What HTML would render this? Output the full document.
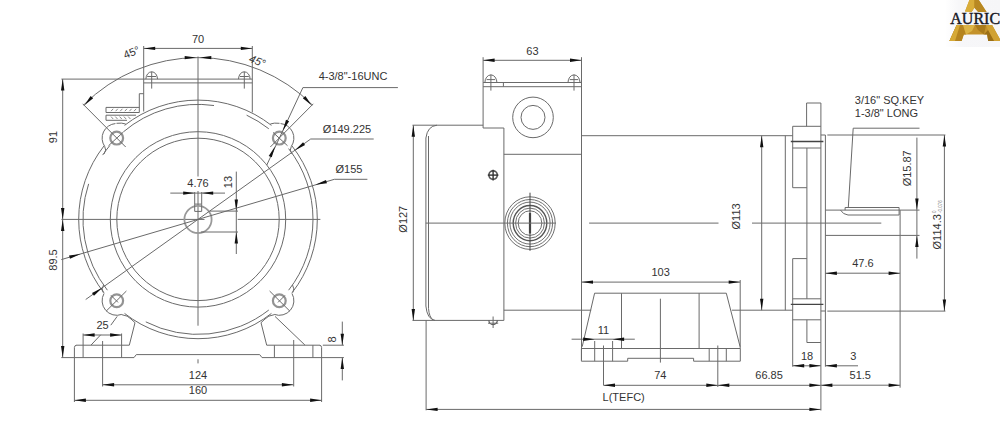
<!DOCTYPE html>
<html><head><meta charset="utf-8"><title>Motor drawing</title>
<style>
html,body{margin:0;padding:0;background:#fff;}
body{width:1000px;height:433px;overflow:hidden;}
svg{display:block;font-family:"Liberation Sans",sans-serif;}
</style></head><body>
<svg width="1000" height="433" viewBox="0 0 1000 433">
<rect width="1000" height="433" fill="#fff"/>
<line x1="61.4" y1="219.4" x2="204.5" y2="219.4" stroke="#6a6a6a" stroke-width="1"/>
<line x1="237.7" y1="219.4" x2="320.4" y2="219.4" stroke="#6a6a6a" stroke-width="1"/>
<line x1="198.0" y1="56.5" x2="198.0" y2="176.5" stroke="#6a6a6a" stroke-width="1"/>
<line x1="198.0" y1="191.0" x2="198.0" y2="325.7" stroke="#6a6a6a" stroke-width="1"/>
<line x1="198.0" y1="359.3" x2="198.0" y2="363.4" stroke="#6a6a6a" stroke-width="1"/>
<path d="M271.45 125.39 A119.30 119.30 0 0 0 124.55 125.39" stroke="#6a6a6a" stroke-width="1" fill="none"/>
<path d="M103.99 145.95 A119.30 119.30 0 0 0 103.99 292.85" stroke="#6a6a6a" stroke-width="1" fill="none"/>
<path d="M124.55 313.41 A119.30 119.30 0 0 0 271.45 313.41" stroke="#6a6a6a" stroke-width="1" fill="none"/>
<path d="M292.01 292.85 A119.30 119.30 0 0 0 292.01 145.95" stroke="#6a6a6a" stroke-width="1" fill="none"/>
<path d="M214.00 105.52 A115.00 115.00 0 0 0 123.31 131.95" stroke="#6a6a6a" stroke-width="1" fill="none"/>
<path d="M268.80 128.78 A115.00 115.00 0 0 0 246.60 115.17" stroke="#6a6a6a" stroke-width="1" fill="none"/>
<path d="M109.90 145.48 A115.00 115.00 0 0 0 102.66 155.09" stroke="#6a6a6a" stroke-width="1" fill="none"/>
<path d="M88.63 183.86 A115.00 115.00 0 0 0 107.38 290.20" stroke="#6a6a6a" stroke-width="1" fill="none"/>
<path d="M145.79 321.87 A115.00 115.00 0 0 0 268.80 310.02" stroke="#6a6a6a" stroke-width="1" fill="none"/>
<path d="M288.62 290.20 A115.00 115.00 0 0 0 288.62 148.60" stroke="#6a6a6a" stroke-width="1" fill="none"/>
<circle cx="198.0" cy="219.4" r="87.7" stroke="#6a6a6a" stroke-width="1" fill="none"/>
<circle cx="198.0" cy="219.4" r="81.2" stroke="#6a6a6a" stroke-width="1" fill="none"/>
<circle cx="198.0" cy="219.4" r="13.6" stroke="#999" stroke-width="1.8" fill="none"/>
<path d="M194.7 211.4 V204.1 H201.7 V211.4 Z" stroke="#6a6a6a" stroke-width="1" fill="none"/>
<circle cx="116.7" cy="138.1" r="6.4" stroke="#939393" stroke-width="2.2" fill="none"/>
<circle cx="279.3" cy="138.1" r="6.4" stroke="#939393" stroke-width="2.2" fill="none"/>
<circle cx="116.7" cy="300.7" r="6.4" stroke="#939393" stroke-width="2.2" fill="none"/>
<circle cx="279.3" cy="300.7" r="6.4" stroke="#939393" stroke-width="2.2" fill="none"/>
<path d="M115.43 123.56 A14.60 14.60 0 0 0 104.74 146.47" stroke="#6a6a6a" stroke-width="1" fill="none"/>
<path d="M291.26 146.47 A14.60 14.60 0 0 0 280.57 123.56" stroke="#6a6a6a" stroke-width="1" fill="none"/>
<path d="M104.06 293.40 A14.60 14.60 0 0 0 121.69 314.42" stroke="#6a6a6a" stroke-width="1" fill="none"/>
<path d="M274.31 314.42 A14.60 14.60 0 0 0 291.94 293.40" stroke="#6a6a6a" stroke-width="1" fill="none"/>
<path d="M116.5 123.3 Q122 122.6 125.7 124" stroke="#6a6a6a" stroke-width="1" fill="none"/>
<path d="M104.7 146.5 Q107 150 104 154" stroke="#6a6a6a" stroke-width="1" fill="none"/>
<path d="M279.5 123.3 Q274 122.6 270.3 124" stroke="#6a6a6a" stroke-width="1" fill="none"/>
<path d="M291.3 146.5 Q289 150 292 154" stroke="#6a6a6a" stroke-width="1" fill="none"/>
<path d="M103.2 292.5 Q101 289 103.5 285" stroke="#6a6a6a" stroke-width="1" fill="none"/>
<path d="M292.8 292.5 Q295 289 292.5 285" stroke="#6a6a6a" stroke-width="1" fill="none"/>
<path d="M121.5 314.6 Q128 315.5 131 319 L135 322.7" stroke="#6a6a6a" stroke-width="1" fill="none"/>
<path d="M274.5 314.6 Q268 315.5 265 319 L261 322.7" stroke="#6a6a6a" stroke-width="1" fill="none"/>
<line x1="82.7" y1="103.8" x2="125.7" y2="147.0" stroke="#6a6a6a" stroke-width="1"/>
<line x1="108.5" y1="145.7" x2="123.0" y2="132.4" stroke="#6a6a6a" stroke-width="1"/>
<line x1="313.3" y1="103.8" x2="270.3" y2="147.0" stroke="#6a6a6a" stroke-width="1"/>
<line x1="287.5" y1="145.7" x2="273.0" y2="132.4" stroke="#6a6a6a" stroke-width="1"/>
<line x1="126.4" y1="291.0" x2="106.0" y2="311.3" stroke="#6a6a6a" stroke-width="1"/>
<line x1="111.0" y1="295.4" x2="118.0" y2="302.4" stroke="#6a6a6a" stroke-width="1"/>
<line x1="269.6" y1="291.0" x2="290.0" y2="311.3" stroke="#6a6a6a" stroke-width="1"/>
<line x1="285.0" y1="295.4" x2="278.0" y2="302.4" stroke="#6a6a6a" stroke-width="1"/>
<line x1="143.7" y1="79.1" x2="252.3" y2="79.1" stroke="#6a6a6a" stroke-width="1"/>
<line x1="143.7" y1="82.9" x2="252.3" y2="82.9" stroke="#6a6a6a" stroke-width="1"/>
<line x1="143.7" y1="46.0" x2="143.7" y2="111.5" stroke="#6a6a6a" stroke-width="1"/>
<line x1="252.3" y1="46.0" x2="252.3" y2="112.4" stroke="#6a6a6a" stroke-width="1"/>
<path d="M145.89999999999998 79.1 A5.8 7.3 0 0 1 157.5 79.1" stroke="#6a6a6a" stroke-width="1" fill="none"/>
<line x1="151.7" y1="71.7" x2="151.7" y2="88.6" stroke="#6a6a6a" stroke-width="1"/>
<line x1="147.2" y1="76.5" x2="156.2" y2="76.5" stroke="#6a6a6a" stroke-width="1"/>
<path d="M238.5 79.1 A5.8 7.3 0 0 1 250.10000000000002 79.1" stroke="#6a6a6a" stroke-width="1" fill="none"/>
<line x1="244.3" y1="71.7" x2="244.3" y2="88.6" stroke="#6a6a6a" stroke-width="1"/>
<line x1="239.8" y1="76.5" x2="248.8" y2="76.5" stroke="#6a6a6a" stroke-width="1"/>
<path d="M143.7 93.7 H139.3 V112.5" stroke="#6a6a6a" stroke-width="1" fill="none"/>
<path d="M139.3 107.4 H106 V112.5 H139.3" stroke="#6a6a6a" stroke-width="1" fill="none"/>
<path d="M136 115.2 H106 V120.3 H127" stroke="#6a6a6a" stroke-width="1" fill="none"/>
<line x1="111.0" y1="111.2" x2="113.2" y2="108.8" stroke="#6a6a6a" stroke-width="0.8"/>
<line x1="115.6" y1="111.2" x2="117.8" y2="108.8" stroke="#6a6a6a" stroke-width="0.8"/>
<line x1="120.2" y1="111.2" x2="122.4" y2="108.8" stroke="#6a6a6a" stroke-width="0.8"/>
<line x1="124.8" y1="111.2" x2="127.0" y2="108.8" stroke="#6a6a6a" stroke-width="0.8"/>
<line x1="129.4" y1="111.2" x2="131.6" y2="108.8" stroke="#6a6a6a" stroke-width="0.8"/>
<line x1="134.0" y1="111.2" x2="136.2" y2="108.8" stroke="#6a6a6a" stroke-width="0.8"/>
<line x1="111.0" y1="116.6" x2="113.2" y2="119.0" stroke="#6a6a6a" stroke-width="0.8"/>
<line x1="115.3" y1="116.6" x2="117.5" y2="119.0" stroke="#6a6a6a" stroke-width="0.8"/>
<line x1="119.6" y1="116.6" x2="121.8" y2="119.0" stroke="#6a6a6a" stroke-width="0.8"/>
<line x1="123.9" y1="116.6" x2="126.1" y2="119.0" stroke="#6a6a6a" stroke-width="0.8"/>
<line x1="128.2" y1="116.6" x2="130.4" y2="119.0" stroke="#6a6a6a" stroke-width="0.8"/>
<path d="M76.5 345.2 H129.3 L135 322.7" stroke="#6a6a6a" stroke-width="1" fill="none"/>
<path d="M74.4 357.6 V347.5 Q74.4 345.2 76.8 345.2" stroke="#6a6a6a" stroke-width="1" fill="none"/>
<path d="M319.5 345.2 H266.7 L261 322.7" stroke="#6a6a6a" stroke-width="1" fill="none"/>
<path d="M321.6 357.6 V347.5 Q321.6 345.2 319.2 345.2" stroke="#6a6a6a" stroke-width="1" fill="none"/>
<path d="M61.3 357.6 H134 L136.3 354.6 H259.7 L262 357.6 H343.9" stroke="#6a6a6a" stroke-width="1" fill="none"/>
<line x1="83.1" y1="333.5" x2="83.1" y2="357.6" stroke="#6a6a6a" stroke-width="1"/>
<line x1="121.6" y1="333.5" x2="121.6" y2="357.6" stroke="#6a6a6a" stroke-width="1"/>
<line x1="274.4" y1="345.2" x2="274.4" y2="357.6" stroke="#6a6a6a" stroke-width="1"/>
<line x1="312.9" y1="345.2" x2="312.9" y2="357.6" stroke="#6a6a6a" stroke-width="1"/>
<line x1="91.1" y1="345.0" x2="100.7" y2="334.8" stroke="#6a6a6a" stroke-width="1"/>
<line x1="110.8" y1="325.2" x2="117.2" y2="316.4" stroke="#6a6a6a" stroke-width="1"/>
<line x1="304.9" y1="345.0" x2="275.0" y2="316.4" stroke="#6a6a6a" stroke-width="1"/>
<line x1="102.6" y1="341.0" x2="102.6" y2="386.5" stroke="#6a6a6a" stroke-width="1"/>
<line x1="293.7" y1="340.0" x2="293.7" y2="386.5" stroke="#6a6a6a" stroke-width="1"/>
<line x1="74.4" y1="357.6" x2="74.4" y2="402.0" stroke="#6a6a6a" stroke-width="1"/>
<line x1="321.6" y1="357.6" x2="321.6" y2="402.0" stroke="#6a6a6a" stroke-width="1"/>
<line x1="83.1" y1="335.0" x2="121.6" y2="335.0" stroke="#6a6a6a" stroke-width="1"/>
<polygon points="83.10,335.00 94.60,333.30 94.60,336.70" fill="#111"/>
<polygon points="121.60,335.00 110.10,336.70 110.10,333.30" fill="#111"/>
<text x="102.6" y="329.0" font-size="11" text-anchor="middle" fill="#333">25</text>
<line x1="102.6" y1="384.8" x2="293.4" y2="384.8" stroke="#6a6a6a" stroke-width="1"/>
<polygon points="102.60,384.80 114.10,383.10 114.10,386.50" fill="#111"/>
<polygon points="293.40,384.80 281.90,386.50 281.90,383.10" fill="#111"/>
<text x="198.0" y="379.0" font-size="11" text-anchor="middle" fill="#333">124</text>
<line x1="74.4" y1="400.3" x2="321.6" y2="400.3" stroke="#6a6a6a" stroke-width="1"/>
<polygon points="74.40,400.30 85.90,398.60 85.90,402.00" fill="#111"/>
<polygon points="321.60,400.30 310.10,402.00 310.10,398.60" fill="#111"/>
<text x="198.0" y="394.2" font-size="11" text-anchor="middle" fill="#333">160</text>
<line x1="322.8" y1="345.2" x2="343.9" y2="345.2" stroke="#6a6a6a" stroke-width="1"/>
<line x1="342.3" y1="321.6" x2="342.3" y2="345.2" stroke="#6a6a6a" stroke-width="1"/>
<polygon points="342.30,345.20 340.60,333.70 344.00,333.70" fill="#111"/>
<line x1="342.3" y1="357.6" x2="342.3" y2="380.4" stroke="#6a6a6a" stroke-width="1"/>
<polygon points="342.30,357.60 344.00,369.10 340.60,369.10" fill="#111"/>
<text x="335.5" y="339.5" font-size="11" text-anchor="middle" fill="#333" transform="rotate(-90 335.5 339.5)">8</text>
<line x1="61.4" y1="79.1" x2="143.7" y2="79.1" stroke="#6a6a6a" stroke-width="1"/>
<line x1="62.7" y1="79.1" x2="62.7" y2="357.6" stroke="#6a6a6a" stroke-width="1"/>
<polygon points="62.70,79.10 64.40,90.60 61.00,90.60" fill="#111"/>
<polygon points="62.70,219.40 61.00,207.90 64.40,207.90" fill="#111"/>
<polygon points="62.70,219.40 64.40,230.90 61.00,230.90" fill="#111"/>
<polygon points="62.70,357.60 61.00,346.10 64.40,346.10" fill="#111"/>
<text x="57.0" y="137.0" font-size="11" text-anchor="middle" fill="#333" transform="rotate(-90 57.0 137.0)">91</text>
<text x="57.0" y="260.0" font-size="11" text-anchor="middle" fill="#333" transform="rotate(-90 57.0 260.0)">89.5</text>
<line x1="143.7" y1="48.4" x2="252.3" y2="48.4" stroke="#6a6a6a" stroke-width="1"/>
<polygon points="143.70,48.40 155.20,46.70 155.20,50.10" fill="#111"/>
<polygon points="252.30,48.40 240.80,50.10 240.80,46.70" fill="#111"/>
<text x="198.0" y="43.0" font-size="11" text-anchor="middle" fill="#333">70</text>
<path d="M312.41 104.99 A161.80 161.80 0 0 0 83.59 104.99" stroke="#6a6a6a" stroke-width="1" fill="none"/>
<polygon points="196.20,57.60 184.70,59.30 184.70,55.90" fill="#111"/>
<polygon points="199.80,57.60 211.30,55.90 211.30,59.30" fill="#111"/>
<polygon points="84.19,105.59 90.62,95.91 93.15,98.18" fill="#111"/>
<polygon points="311.81,105.59 302.85,98.18 305.38,95.91" fill="#111"/>
<text x="133.0" y="56.0" font-size="11" text-anchor="middle" fill="#333" transform="rotate(-22 133.0 56.0)">45°</text>
<text x="256.0" y="64.5" font-size="11" text-anchor="middle" fill="#333" transform="rotate(22 256.0 64.5)" font-style="italic">45°</text>
<line x1="170.3" y1="193.1" x2="225.0" y2="193.1" stroke="#6a6a6a" stroke-width="1"/>
<polygon points="194.70,193.10 183.20,194.80 183.20,191.40" fill="#111"/>
<polygon points="201.70,193.10 213.20,191.40 213.20,194.80" fill="#111"/>
<line x1="194.7" y1="192.0" x2="194.7" y2="204.0" stroke="#6a6a6a" stroke-width="1"/>
<line x1="201.7" y1="192.0" x2="201.7" y2="204.0" stroke="#6a6a6a" stroke-width="1"/>
<text x="198.0" y="186.6" font-size="11" text-anchor="middle" fill="#333">4.76</text>
<line x1="236.3" y1="171.6" x2="236.3" y2="254.0" stroke="#6a6a6a" stroke-width="1"/>
<polygon points="236.30,211.10 234.60,199.60 238.00,199.60" fill="#111"/>
<polygon points="236.30,232.00 238.00,243.50 234.60,243.50" fill="#111"/>
<line x1="210.0" y1="211.1" x2="238.0" y2="211.1" stroke="#6a6a6a" stroke-width="1"/>
<line x1="200.8" y1="232.0" x2="238.0" y2="232.0" stroke="#6a6a6a" stroke-width="1"/>
<text x="232.0" y="182.0" font-size="11" text-anchor="middle" fill="#333" transform="rotate(-90 232.0 182.0)">13</text>
<line x1="85.7" y1="299.5" x2="310.7" y2="139.0" stroke="#6a6a6a" stroke-width="1"/>
<line x1="310.7" y1="139.0" x2="373.7" y2="139.0" stroke="#6a6a6a" stroke-width="1"/>
<polygon points="294.72,150.41 303.09,142.35 305.07,145.12" fill="#111"/>
<polygon points="102.34,287.63 93.97,295.69 91.99,292.93" fill="#111"/>
<text x="347.0" y="133.3" font-size="11" text-anchor="middle" fill="#333">Ø149.225</text>
<line x1="61.3" y1="259.6" x2="334.4" y2="179.3" stroke="#6a6a6a" stroke-width="1"/>
<line x1="334.4" y1="179.3" x2="367.4" y2="179.3" stroke="#6a6a6a" stroke-width="1"/>
<polygon points="315.42,184.84 325.97,179.96 326.93,183.23" fill="#111"/>
<polygon points="80.58,253.96 70.03,258.84 69.07,255.57" fill="#111"/>
<text x="349.0" y="172.6" font-size="11" text-anchor="middle" fill="#333">Ø155</text>
<line x1="302.9" y1="87.6" x2="266.8" y2="165.0" stroke="#6a6a6a" stroke-width="1"/>
<line x1="302.9" y1="87.6" x2="397.9" y2="87.6" stroke="#6a6a6a" stroke-width="1"/>
<polygon points="282.70,131.00 286.02,119.86 289.10,121.30" fill="#111"/>
<polygon points="275.10,146.20 271.78,157.34 268.70,155.90" fill="#111"/>
<text x="353.0" y="79.7" font-size="11" text-anchor="middle" fill="#333">4-3/8"-16UNC</text>
<path d="M412.5 125.2 H483.1" stroke="#6a6a6a" stroke-width="1" fill="none"/>
<path d="M437 125.2 Q427.5 126 425.9 138 V306 Q427 319 435 320.4" stroke="#6a6a6a" stroke-width="1" fill="none"/>
<path d="M428.5 136 V308.5 Q429.3 317.5 433 319.8" stroke="#6a6a6a" stroke-width="1" fill="none"/>
<path d="M412.5 320.4 H503.9" stroke="#6a6a6a" stroke-width="1" fill="none"/>
<line x1="503.9" y1="128.0" x2="503.9" y2="320.4" stroke="#6a6a6a" stroke-width="1"/>
<path d="M483.1 57.2 V128 H503.9" stroke="#6a6a6a" stroke-width="1" fill="none"/>
<line x1="483.1" y1="82.5" x2="581.5" y2="82.5" stroke="#6a6a6a" stroke-width="1"/>
<line x1="483.1" y1="86.7" x2="581.5" y2="86.7" stroke="#6a6a6a" stroke-width="1"/>
<line x1="503.4" y1="82.5" x2="503.4" y2="86.7" stroke="#6a6a6a" stroke-width="1"/>
<line x1="581.5" y1="57.2" x2="581.5" y2="359.8" stroke="#6a6a6a" stroke-width="1"/>
<line x1="503.9" y1="154.3" x2="581.5" y2="154.3" stroke="#6a6a6a" stroke-width="1"/>
<path d="M484.9 82.5 A6 7.6 0 0 1 496.9 82.5" stroke="#6a6a6a" stroke-width="1" fill="none"/>
<line x1="490.9" y1="74.6" x2="490.9" y2="90.6" stroke="#6a6a6a" stroke-width="1"/>
<line x1="486.6" y1="79.6" x2="495.2" y2="79.6" stroke="#6a6a6a" stroke-width="1"/>
<path d="M568 82.5 A6 7.6 0 0 1 580 82.5" stroke="#6a6a6a" stroke-width="1" fill="none"/>
<line x1="574.0" y1="74.6" x2="574.0" y2="90.6" stroke="#6a6a6a" stroke-width="1"/>
<line x1="569.7" y1="79.6" x2="578.3" y2="79.6" stroke="#6a6a6a" stroke-width="1"/>
<circle cx="533.0" cy="117.4" r="20.3" stroke="#6a6a6a" stroke-width="1" fill="none"/>
<circle cx="533.0" cy="117.4" r="12.0" stroke="#6a6a6a" stroke-width="1" fill="none"/>
<line x1="483.1" y1="60.3" x2="581.5" y2="60.3" stroke="#6a6a6a" stroke-width="1"/>
<polygon points="483.10,60.30 494.60,58.60 494.60,62.00" fill="#111"/>
<polygon points="581.50,60.30 570.00,62.00 570.00,58.60" fill="#111"/>
<text x="532.4" y="54.7" font-size="11" text-anchor="middle" fill="#333">63</text>
<circle cx="493.1" cy="175.1" r="4.2" stroke="#555" stroke-width="1.6" fill="none"/>
<line x1="487.8" y1="175.1" x2="498.4" y2="175.1" stroke="#333" stroke-width="1.4"/>
<line x1="493.1" y1="169.8" x2="493.1" y2="180.4" stroke="#333" stroke-width="1.4"/>
<path d="M488.9 320.4 A4.2 4.2 0 0 0 497.3 320.4" stroke="#555" stroke-width="1.2" fill="none"/>
<line x1="493.1" y1="316.5" x2="493.1" y2="328.0" stroke="#6a6a6a" stroke-width="1"/>
<line x1="488.0" y1="323.2" x2="498.2" y2="323.2" stroke="#6a6a6a" stroke-width="1"/>
<ellipse cx="530.0" cy="223.1" rx="25.2" ry="26.3" stroke="#707070" stroke-width="1" fill="none"/>
<ellipse cx="530.0" cy="223.1" rx="22.6" ry="23.6" stroke="#707070" stroke-width="1" fill="none"/>
<ellipse cx="530.0" cy="223.1" rx="20.1" ry="21.0" stroke="#707070" stroke-width="1" fill="none"/>
<ellipse cx="530.0" cy="223.1" rx="14.4" ry="15.0" stroke="#707070" stroke-width="1" fill="none"/>
<ellipse cx="530.0" cy="223.1" rx="11.8" ry="12.3" stroke="#707070" stroke-width="1" fill="none"/>
<ellipse cx="530.0" cy="223.1" rx="16.8" ry="17.6" stroke="#555" stroke-width="1.4" fill="none"/>
<line x1="530.0" y1="192.7" x2="530.0" y2="250.8" stroke="#444" stroke-width="1"/>
<line x1="530.0" y1="213.0" x2="530.0" y2="233.5" stroke="#444" stroke-width="2.2"/>
<line x1="425.8" y1="223.1" x2="556.0" y2="223.1" stroke="#6a6a6a" stroke-width="1"/>
<line x1="589.1" y1="223.1" x2="718.5" y2="223.1" stroke="#6a6a6a" stroke-width="1"/>
<line x1="752.0" y1="223.1" x2="881.3" y2="223.1" stroke="#6a6a6a" stroke-width="1"/>
<line x1="581.5" y1="135.7" x2="792.7" y2="135.7" stroke="#6a6a6a" stroke-width="1"/>
<line x1="503.9" y1="310.2" x2="591.2" y2="310.2" stroke="#6a6a6a" stroke-width="1"/>
<line x1="731.8" y1="310.2" x2="792.7" y2="310.2" stroke="#6a6a6a" stroke-width="1"/>
<line x1="785.3" y1="135.7" x2="785.3" y2="310.2" stroke="#6a6a6a" stroke-width="1"/>
<path d="M582.2 346.7 L594.6 293.2 H726.3 L740.1 346.7" stroke="#6a6a6a" stroke-width="1" fill="none"/>
<line x1="621.5" y1="293.2" x2="621.5" y2="348.5" stroke="#6a6a6a" stroke-width="1"/>
<line x1="699.1" y1="293.2" x2="699.1" y2="348.5" stroke="#6a6a6a" stroke-width="1"/>
<line x1="660.4" y1="298.7" x2="660.4" y2="362.6" stroke="#6a6a6a" stroke-width="1"/>
<path d="M581.4 348.5 H740.3 V361.2 H693.6 V358.3 H627.7 V361.2 H581.4 Z" stroke="#6a6a6a" stroke-width="1" fill="none"/>
<line x1="594.7" y1="348.5" x2="594.7" y2="361.2" stroke="#6a6a6a" stroke-width="1"/>
<line x1="612.6" y1="348.5" x2="612.6" y2="361.2" stroke="#6a6a6a" stroke-width="1"/>
<line x1="709.2" y1="348.5" x2="709.2" y2="361.2" stroke="#6a6a6a" stroke-width="1"/>
<line x1="726.3" y1="348.5" x2="726.3" y2="361.2" stroke="#6a6a6a" stroke-width="1"/>
<line x1="594.7" y1="341.0" x2="594.7" y2="348.5" stroke="#6a6a6a" stroke-width="1"/>
<line x1="612.6" y1="341.0" x2="612.6" y2="348.5" stroke="#6a6a6a" stroke-width="1"/>
<line x1="603.5" y1="345.5" x2="603.5" y2="385.3" stroke="#6a6a6a" stroke-width="1"/>
<line x1="717.8" y1="345.5" x2="717.8" y2="387.0" stroke="#6a6a6a" stroke-width="1"/>
<line x1="740.2" y1="280.0" x2="740.2" y2="348.5" stroke="#6a6a6a" stroke-width="1"/>
<line x1="581.5" y1="282.1" x2="740.2" y2="282.1" stroke="#6a6a6a" stroke-width="1"/>
<polygon points="581.50,282.10 593.00,280.40 593.00,283.80" fill="#111"/>
<polygon points="740.20,282.10 728.70,283.80 728.70,280.40" fill="#111"/>
<text x="660.6" y="276.3" font-size="11" text-anchor="middle" fill="#333">103</text>
<line x1="571.6" y1="339.2" x2="634.8" y2="339.2" stroke="#6a6a6a" stroke-width="1"/>
<polygon points="594.70,339.20 583.20,340.90 583.20,337.50" fill="#111"/>
<polygon points="612.60,339.20 624.10,337.50 624.10,340.90" fill="#111"/>
<text x="603.5" y="334.0" font-size="11" text-anchor="middle" fill="#333">11</text>
<line x1="603.5" y1="385.3" x2="820.9" y2="385.3" stroke="#6a6a6a" stroke-width="1"/>
<polygon points="603.50,385.30 615.00,383.60 615.00,387.00" fill="#111"/>
<polygon points="717.80,385.30 706.30,387.00 706.30,383.60" fill="#111"/>
<polygon points="717.80,385.30 729.30,383.60 729.30,387.00" fill="#111"/>
<polygon points="820.90,385.30 809.40,387.00 809.40,383.60" fill="#111"/>
<text x="660.3" y="379.3" font-size="11" text-anchor="middle" fill="#333">74</text>
<text x="769.1" y="379.3" font-size="11" text-anchor="middle" fill="#333">66.85</text>
<text x="602.6" y="401.3" font-size="11" text-anchor="start" fill="#333">L(TEFC)</text>
<line x1="426.1" y1="320.4" x2="426.1" y2="410.3" stroke="#6a6a6a" stroke-width="1"/>
<line x1="426.1" y1="409.4" x2="820.9" y2="409.4" stroke="#6a6a6a" stroke-width="1"/>
<polygon points="426.10,409.40 437.60,407.70 437.60,411.10" fill="#111"/>
<polygon points="820.90,409.40 809.40,411.10 809.40,407.70" fill="#111"/>
<line x1="413.3" y1="125.2" x2="413.3" y2="320.4" stroke="#6a6a6a" stroke-width="1"/>
<polygon points="413.30,125.20 415.00,136.70 411.60,136.70" fill="#111"/>
<polygon points="413.30,320.40 411.60,308.90 415.00,308.90" fill="#111"/>
<text x="407.5" y="219.2" font-size="11" text-anchor="middle" fill="#333" transform="rotate(-90 407.5 219.2)">Ø127</text>
<line x1="761.7" y1="135.7" x2="761.7" y2="310.2" stroke="#6a6a6a" stroke-width="1"/>
<polygon points="761.70,135.70 763.40,147.20 760.00,147.20" fill="#111"/>
<polygon points="761.70,310.20 760.00,298.70 763.40,298.70" fill="#111"/>
<text x="740.0" y="216.4" font-size="11" text-anchor="middle" fill="#333" transform="rotate(-90 740.0 216.4)">Ø113</text>
<path d="M806.6 126.3 V103 H820.9 V342.5 H806.9 V319.8" stroke="#6a6a6a" stroke-width="1" fill="none"/>
<path d="M792.7 126.3 H820.9" stroke="#6a6a6a" stroke-width="1" fill="none"/>
<path d="M792.7 319.8 H820.9" stroke="#6a6a6a" stroke-width="1" fill="none"/>
<line x1="792.7" y1="126.3" x2="792.7" y2="187.7" stroke="#6a6a6a" stroke-width="1"/>
<line x1="792.7" y1="258.6" x2="792.7" y2="366.7" stroke="#6a6a6a" stroke-width="1"/>
<line x1="806.9" y1="148.0" x2="806.9" y2="298.8" stroke="#6a6a6a" stroke-width="1"/>
<line x1="790.8" y1="141.5" x2="823.4" y2="141.5" stroke="#444" stroke-width="1.3"/>
<line x1="792.7" y1="148.0" x2="820.9" y2="148.0" stroke="#6a6a6a" stroke-width="1"/>
<line x1="792.7" y1="298.8" x2="820.9" y2="298.8" stroke="#6a6a6a" stroke-width="1"/>
<line x1="790.8" y1="304.3" x2="823.4" y2="304.3" stroke="#444" stroke-width="1.3"/>
<line x1="792.7" y1="187.7" x2="806.9" y2="187.7" stroke="#6a6a6a" stroke-width="1"/>
<line x1="792.7" y1="258.6" x2="806.9" y2="258.6" stroke="#6a6a6a" stroke-width="1"/>
<line x1="825.4" y1="135.0" x2="825.4" y2="366.7" stroke="#6a6a6a" stroke-width="1"/>
<line x1="820.9" y1="135.0" x2="825.4" y2="135.0" stroke="#6a6a6a" stroke-width="1"/>
<line x1="820.9" y1="311.0" x2="825.4" y2="311.0" stroke="#6a6a6a" stroke-width="1"/>
<path d="M825.4 210.1 H900.1 V235.4 H825.4" stroke="#6a6a6a" stroke-width="1" fill="none"/>
<path d="M845.1 210.1 V207.5 H899.1 V215 H848 Q843 214.5 840.5 210.1" stroke="#6a6a6a" stroke-width="1" fill="none"/>
<line x1="900.1" y1="235.4" x2="900.1" y2="387.7" stroke="#6a6a6a" stroke-width="1"/>
<line x1="853.2" y1="128.2" x2="919.5" y2="128.2" stroke="#6a6a6a" stroke-width="1"/>
<line x1="853.2" y1="128.2" x2="848.3" y2="207.5" stroke="#6a6a6a" stroke-width="1"/>
<text x="854.8" y="104.3" font-size="11" text-anchor="start" fill="#333">3/16" SQ.KEY</text>
<text x="854.8" y="116.6" font-size="11" text-anchor="start" fill="#333">1-3/8" LONG</text>
<line x1="916.9" y1="137.6" x2="916.9" y2="258.6" stroke="#6a6a6a" stroke-width="1"/>
<polygon points="916.90,210.10 915.20,198.60 918.60,198.60" fill="#111"/>
<polygon points="916.90,235.40 918.60,246.90 915.20,246.90" fill="#111"/>
<line x1="900.1" y1="210.1" x2="919.5" y2="210.1" stroke="#6a6a6a" stroke-width="1"/>
<line x1="900.1" y1="235.4" x2="919.5" y2="235.4" stroke="#6a6a6a" stroke-width="1"/>
<text x="910.6" y="168.3" font-size="11" text-anchor="middle" fill="#333" transform="rotate(-90 910.6 168.3)">Ø15.87</text>
<line x1="827.3" y1="135.0" x2="945.4" y2="135.0" stroke="#6a6a6a" stroke-width="1"/>
<line x1="827.3" y1="311.1" x2="945.4" y2="311.1" stroke="#6a6a6a" stroke-width="1"/>
<line x1="944.4" y1="135.0" x2="944.4" y2="311.1" stroke="#6a6a6a" stroke-width="1"/>
<polygon points="944.40,135.00 946.10,146.50 942.70,146.50" fill="#111"/>
<polygon points="944.40,311.10 942.70,299.60 946.10,299.60" fill="#111"/>
<text x="941.3" y="231.8" font-size="11" text-anchor="middle" fill="#333" transform="rotate(-90 941.3 231.8)">Ø114.3</text>
<text x="936.0" y="213.0" font-size="4.5" text-anchor="start" fill="#777" transform="rotate(-90 936.0 213.0)">0</text>
<text x="941.5" y="213.0" font-size="4.5" text-anchor="start" fill="#777" transform="rotate(-90 941.5 213.0)">-0.076</text>
<line x1="825.4" y1="273.2" x2="900.1" y2="273.2" stroke="#6a6a6a" stroke-width="1"/>
<polygon points="825.40,273.20 836.90,271.50 836.90,274.90" fill="#111"/>
<polygon points="900.10,273.20 888.60,274.90 888.60,271.50" fill="#111"/>
<text x="862.9" y="267.3" font-size="11" text-anchor="middle" fill="#333">47.6</text>
<line x1="792.7" y1="365.8" x2="820.9" y2="365.8" stroke="#6a6a6a" stroke-width="1"/>
<polygon points="792.70,365.80 804.20,364.10 804.20,367.50" fill="#111"/>
<polygon points="820.90,365.80 809.40,367.50 809.40,364.10" fill="#111"/>
<line x1="825.4" y1="365.8" x2="858.0" y2="365.8" stroke="#6a6a6a" stroke-width="1"/>
<polygon points="825.40,365.80 836.90,364.10 836.90,367.50" fill="#111"/>
<text x="807.0" y="360.0" font-size="11" text-anchor="middle" fill="#333">18</text>
<text x="853.2" y="360.0" font-size="11" text-anchor="middle" fill="#333">3</text>
<line x1="820.9" y1="385.2" x2="900.1" y2="385.2" stroke="#6a6a6a" stroke-width="1"/>
<polygon points="820.90,385.20 832.40,383.50 832.40,386.90" fill="#111"/>
<polygon points="900.10,385.20 888.60,386.90 888.60,383.50" fill="#111"/>
<text x="860.3" y="379.3" font-size="11" text-anchor="middle" fill="#333">51.5</text>
<line x1="820.9" y1="342.5" x2="820.9" y2="410.5" stroke="#6a6a6a" stroke-width="1"/>

<defs>
<linearGradient id="gl" x1="0" y1="0" x2="1" y2="1"><stop offset="0" stop-color="#e9c24e"/><stop offset="0.5" stop-color="#c4922a"/><stop offset="1" stop-color="#8f6412"/></linearGradient>
<linearGradient id="gbg" x1="0" y1="0" x2="1" y2="0"><stop offset="0" stop-color="#ffffff"/><stop offset="0.25" stop-color="#f7f7f9"/><stop offset="1" stop-color="#f6f6f8"/></linearGradient>
</defs>
<g>
<rect x="945" y="0" width="55" height="47" fill="url(#gbg)"/>
<polygon points="969.4,0 978.8,0 986.6,12 978.2,12 974.4,7.8 971.6,12 965,11.5" fill="#c9992c"/>
<polygon points="969.4,0 974.4,0 974.4,7.8 971.6,12 965,11.5" fill="#d9ad3a"/>
<polygon points="974.4,0 978.8,0 986.6,12 978.2,12 974.4,7.8" fill="#b88822"/>
<polygon points="956.6,25 992.1,25 1001,41 988.2,41 987.1,34.4 963.8,34.4 961.6,41 949.4,41" fill="#c4922a"/>
<polygon points="956.6,25 963,25 966,34.4 963.8,34.4 961.6,41 949.4,41" fill="#b5841f"/>
<polygon points="956.6,25 960,25 955,41 949.4,41" fill="#d6a936"/>
<polygon points="963,25 975,25 972,31 966,34.4" fill="#dcb445"/>
<polygon points="975,25 986,25 984,34.4 978,30" fill="#a97a1a"/>
<polygon points="986,25 992.1,25 1001,41 994,41 988,30" fill="#d0a132"/>
<polygon points="984,34.4 987.1,34.4 988.2,41 994,41 988,30" fill="#9c6f15"/>
<text x="950.3" y="23.7" font-family="Liberation Serif, serif" font-size="16" text-anchor="start" fill="#17171f" stroke="#17171f" stroke-width="0.4">AURIC</text>
</g>

</svg>
</body></html>
